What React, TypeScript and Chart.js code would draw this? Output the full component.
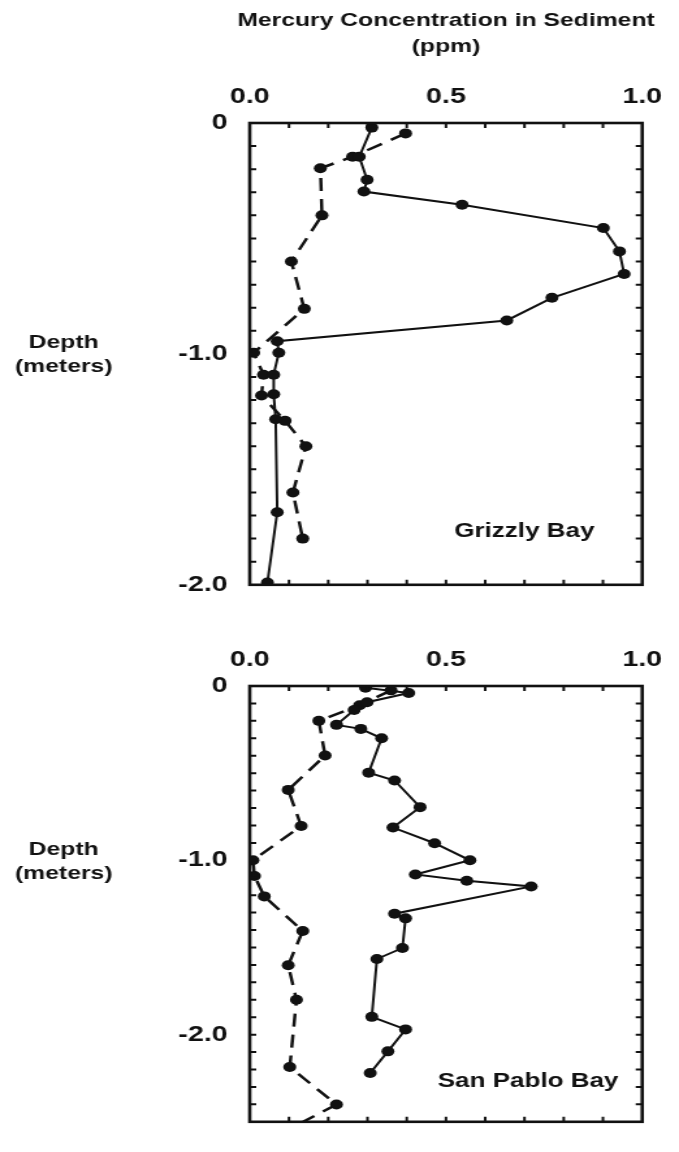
import { useEffect, useRef } from 'react';
import { Chart, registerables } from 'chart.js';

Chart.register(...registerables);

// The figure is drawn on a narrower canvas and widened by CSS, which gives the
// slightly broad lettering and oval markers of the printed figure.
const STRETCH = 1.3;
const PAGE_W = 679;
const CANVAS_W = Math.round(PAGE_W / STRETCH);
const PLOT_LEFT = 192;
const PLOT_RIGHT = 505.5;
const INK = '#111111';
const FONT = '"Liberation Sans", Arial, Helvetica, sans-serif';

const titleLines = ['Mercury Concentration in Sediment', '(ppm)'];
const depthTitle = ['Depth', '(meters)'];
const hgTickLabels = [0, 0.5, 1.0];
const hgMinorTicks = [0.1, 0.2, 0.3, 0.4, 0.5, 0.6, 0.7, 0.8, 0.9];
const depthTickLabels = [0, -1, -2];

// Grizzly Bay cores: mercury (ppm) against depth (m)
const grizzlySolidDepth = [-0.02, -0.146, -0.246, -0.297, -0.354, -0.455, -0.556, -0.654, -0.757, -0.855, -0.945, -0.995, -1.09, -1.175, -1.283, -1.686, -1.99];
const grizzlySolidHg = [0.311, 0.279, 0.299, 0.291, 0.541, 0.901, 0.942, 0.954, 0.77, 0.655, 0.07, 0.074, 0.061, 0.061, 0.066, 0.07, 0.045];
const grizzlyDashedDepth = [-0.045, -0.146, -0.196, -0.4, -0.6, -0.805, -0.995, -1.09, -1.18, -1.29, -1.4, -1.6, -1.8];
const grizzlyDashedHg = [0.397, 0.262, 0.18, 0.184, 0.106, 0.139, 0.01, 0.035, 0.03, 0.09, 0.143, 0.11, 0.135];

// San Pablo Bay cores
const sanPabloSolidDepth = [-0.01, -0.04, -0.093, -0.138, -0.223, -0.246, -0.3, -0.497, -0.542, -0.695, -0.812, -0.902, -1.0, -1.081, -1.117, -1.15, -1.306, -1.333, -1.503, -1.566, -1.898, -1.97, -2.096, -2.22];
const sanPabloSolidHg = [0.295, 0.405, 0.299, 0.266, 0.221, 0.283, 0.336, 0.303, 0.369, 0.434, 0.365, 0.471, 0.561, 0.422, 0.553, 0.717, 0.369, 0.397, 0.389, 0.324, 0.311, 0.397, 0.352, 0.307];
const sanPabloDashedDepth = [-0.025, -0.11, -0.2, -0.399, -0.596, -0.803, -1.0, -1.09, -1.207, -1.405, -1.602, -1.8, -2.186, -2.401, -2.6];
const sanPabloDashedHg = [0.36, 0.28, 0.176, 0.192, 0.098, 0.131, 0.008, 0.012, 0.037, 0.135, 0.098, 0.119, 0.102, 0.221, 0.05];

const toPoints = (hg: number[], depth: number[]) => hg.map((v, i) => ({ x: v, y: depth[i] }));

const solidStyle = {
  showLine: true,
  borderColor: INK,
  borderWidth: 2,
  pointRadius: 5,
  pointBackgroundColor: INK,
  pointBorderColor: INK,
  pointBorderWidth: 0,
};
const dashedStyle = { ...solidStyle, borderWidth: 2.5, borderDash: [13, 8] };

// Frame, inward minor ticks and the panel's text.
const panelDecor = {
  id: 'panelDecor',
  afterDraw(chart: any, _args: any, opts: any) {
    const { ctx, chartArea: a } = chart;
    const xs = chart.scales.x;
    const ys = chart.scales.y;
    ctx.save();
    ctx.strokeStyle = INK;
    ctx.lineWidth = 2.6;
    ctx.strokeRect(a.left, a.top, a.right - a.left, a.bottom - a.top);

    ctx.lineWidth = 2;
    ctx.beginPath();
    for (const v of hgMinorTicks) {
      const px = xs.getPixelForValue(v);
      ctx.moveTo(px, a.top);
      ctx.lineTo(px, a.top + 5);
      ctx.moveTo(px, a.bottom);
      ctx.lineTo(px, a.bottom - 5);
    }
    for (let k = 1; k < opts.depthSteps; k++) {
      const py = ys.getPixelForValue(-k / 10);
      ctx.moveTo(a.left, py);
      ctx.lineTo(a.left + 5, py);
      ctx.moveTo(a.right, py);
      ctx.lineTo(a.right - 5, py);
    }
    ctx.stroke();

    ctx.fillStyle = INK;
    ctx.textAlign = 'center';
    ctx.textBaseline = 'middle';
    if (opts.title) {
      ctx.font = `bold 19px ${FONT}`;
      opts.title.forEach((t: string, i: number) => ctx.fillText(t, (a.left + a.right) / 2, 21 + i * 26));
    }
    ctx.font = `bold 19px ${FONT}`;
    const yMid = ys.getPixelForValue(-1);
    ctx.fillText(depthTitle[0], 49, yMid - 11);
    ctx.fillText(depthTitle[1], 49, yMid + 13);

    ctx.textAlign = 'left';
    ctx.textBaseline = 'alphabetic';
    ctx.font = `bold 20px ${FONT}`;
    ctx.fillText(opts.bay, xs.getPixelForValue(opts.bayAt[0]), ys.getPixelForValue(opts.bayAt[1]));
    ctx.restore();
  },
};

type PanelProps = {
  top: number;
  height: number;
  areaTop: number;
  areaBottom: number;
  depthMin: number;
  datasets: any[];
  decor: any;
};

function DepthPanel({ top, height, areaTop, areaBottom, depthMin, datasets, decor }: PanelProps) {
  const ref = useRef<HTMLCanvasElement>(null);

  useEffect(() => {
    const tickFont = { family: FONT, size: 22, weight: 'bold' as const };
    const chart = new Chart(ref.current as HTMLCanvasElement, {
      type: 'scatter',
      data: { datasets },
      options: {
        responsive: false,
        animation: false,
        events: [],
        layout: {
          autoPadding: false,
          padding: { left: 0, top: 0, right: CANVAS_W - PLOT_RIGHT, bottom: height - areaBottom },
        },
        plugins: {
          legend: { display: false },
          tooltip: { enabled: false },
          panelDecor: decor,
        } as any,
        scales: {
          x: {
            type: 'linear',
            position: 'top',
            min: 0,
            max: 1,
            grid: { display: false, drawTicks: false },
            border: { display: false },
            ticks: {
              padding: 13,
              color: INK,
              font: tickFont,
              callback: (v: any) => Number(v).toFixed(1),
            },
            afterBuildTicks: (s: any) => {
              s.ticks = hgTickLabels.map((value) => ({ value }));
            },
            afterFit: (s: any) => {
              s.height = areaTop;
            },
          },
          y: {
            type: 'linear',
            position: 'left',
            min: depthMin,
            max: 0,
            grid: { display: false, drawTicks: false },
            border: { display: false },
            ticks: {
              padding: 17,
              color: INK,
              font: tickFont,
              callback: (v: any) => (Number(v) === 0 ? '0' : Number(v).toFixed(1)),
            },
            afterBuildTicks: (s: any) => {
              s.ticks = depthTickLabels.map((value) => ({ value }));
            },
            afterFit: (s: any) => {
              s.width = PLOT_LEFT;
            },
          },
        } as any,
      },
      plugins: [panelDecor],
    });
    return () => chart.destroy();
  }, []);

  return (
    <canvas
      ref={ref}
      width={CANVAS_W}
      height={height}
      style={{ position: 'absolute', left: 0, top, width: PAGE_W, height }}
    />
  );
}

export default function App() {
  const grizzly = [
    { data: toPoints(grizzlySolidHg, grizzlySolidDepth), ...solidStyle },
    { data: toPoints(grizzlyDashedHg, grizzlyDashedDepth), ...dashedStyle },
  ];
  const sanPablo = [
    { data: toPoints(sanPabloSolidHg, sanPabloSolidDepth), ...solidStyle },
    { data: toPoints(sanPabloDashedHg, sanPabloDashedDepth), ...dashedStyle },
  ];

  return (
    <div style={{ position: 'absolute', left: 0, top: 0, width: PAGE_W, height: 1152, background: '#fff', overflow: 'hidden' }}>
      <DepthPanel
        top={0}
        height={615}
        areaTop={123}
        areaBottom={586}
        depthMin={-2}
        datasets={grizzly}
        decor={{ title: titleLines, depthSteps: 20, bay: 'Grizzly Bay', bayAt: [0.521, -1.794] }}
      />
      <DepthPanel
        top={615}
        height={537}
        areaTop={71}
        areaBottom={535}
        depthMin={-2.5}
        datasets={sanPablo}
        decor={{ depthSteps: 25, bay: 'San Pablo Bay', bayAt: [0.479, -2.3] }}
      />
    </div>
  );
}
